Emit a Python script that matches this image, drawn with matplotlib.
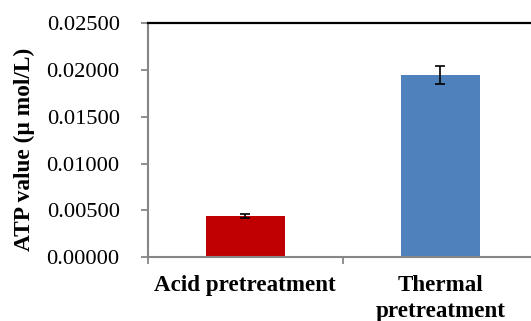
import matplotlib.pyplot as plt
from matplotlib.ticker import FormatStrFormatter, FixedLocator

# data
categories = ['Acid pretreatment', 'Thermal\npretreatment']
atp_values = [0.00440, 0.01950]
atp_errors = [0.00024, 0.00100]
bar_colors = ['#C00000', '#4F81BD']
y_ticks = [0.0, 0.005, 0.010, 0.015, 0.020, 0.025]

plt.rcParams['font.family'] = ['Liberation Serif', 'DejaVu Serif']

fig = plt.figure(figsize=(5.31, 3.21), dpi=100)
ax = fig.add_axes([0.2778, 0.1994, 0.7354, 0.7274])

x = list(range(len(categories)))
ax.bar(x, atp_values, width=0.405, color=bar_colors, zorder=2)
ax.errorbar(x, atp_values, yerr=atp_errors, fmt='none',
            ecolor='black', elinewidth=1.2, capsize=3.3, capthick=1.2, zorder=3)

ax.set_xlim(-0.5, 1.5)
ax.set_ylim(0, 0.025)
ax.set_yticks(y_ticks)
ax.yaxis.set_major_formatter(FormatStrFormatter('%.5f'))

ax.set_xticks(x)
ax.set_xticklabels(categories, fontsize=16.6, fontweight='bold', linespacing=1.32)
ax.xaxis.set_minor_locator(FixedLocator([-0.5, 0.5, 1.5]))
ax.tick_params(axis='x', which='major', length=0, pad=13)
ax.tick_params(axis='x', which='minor', length=5, width=1.3, color='#868686')
ax.tick_params(axis='y', labelsize=16.2, length=5, width=1.3, color='#868686', pad=15)

ax.set_ylabel('ATP value (µ mol/L)', fontsize=16.8, fontweight='bold',
              labelpad=8.5, y=0.46)

# spines
for side in ['left', 'bottom']:
    ax.spines[side].set_color('#868686')
    ax.spines[side].set_linewidth(1.5)
ax.spines['top'].set_color('black')
ax.spines['top'].set_linewidth(1.6)
ax.spines['right'].set_visible(False)

fig.savefig('out.png', dpi=100)
